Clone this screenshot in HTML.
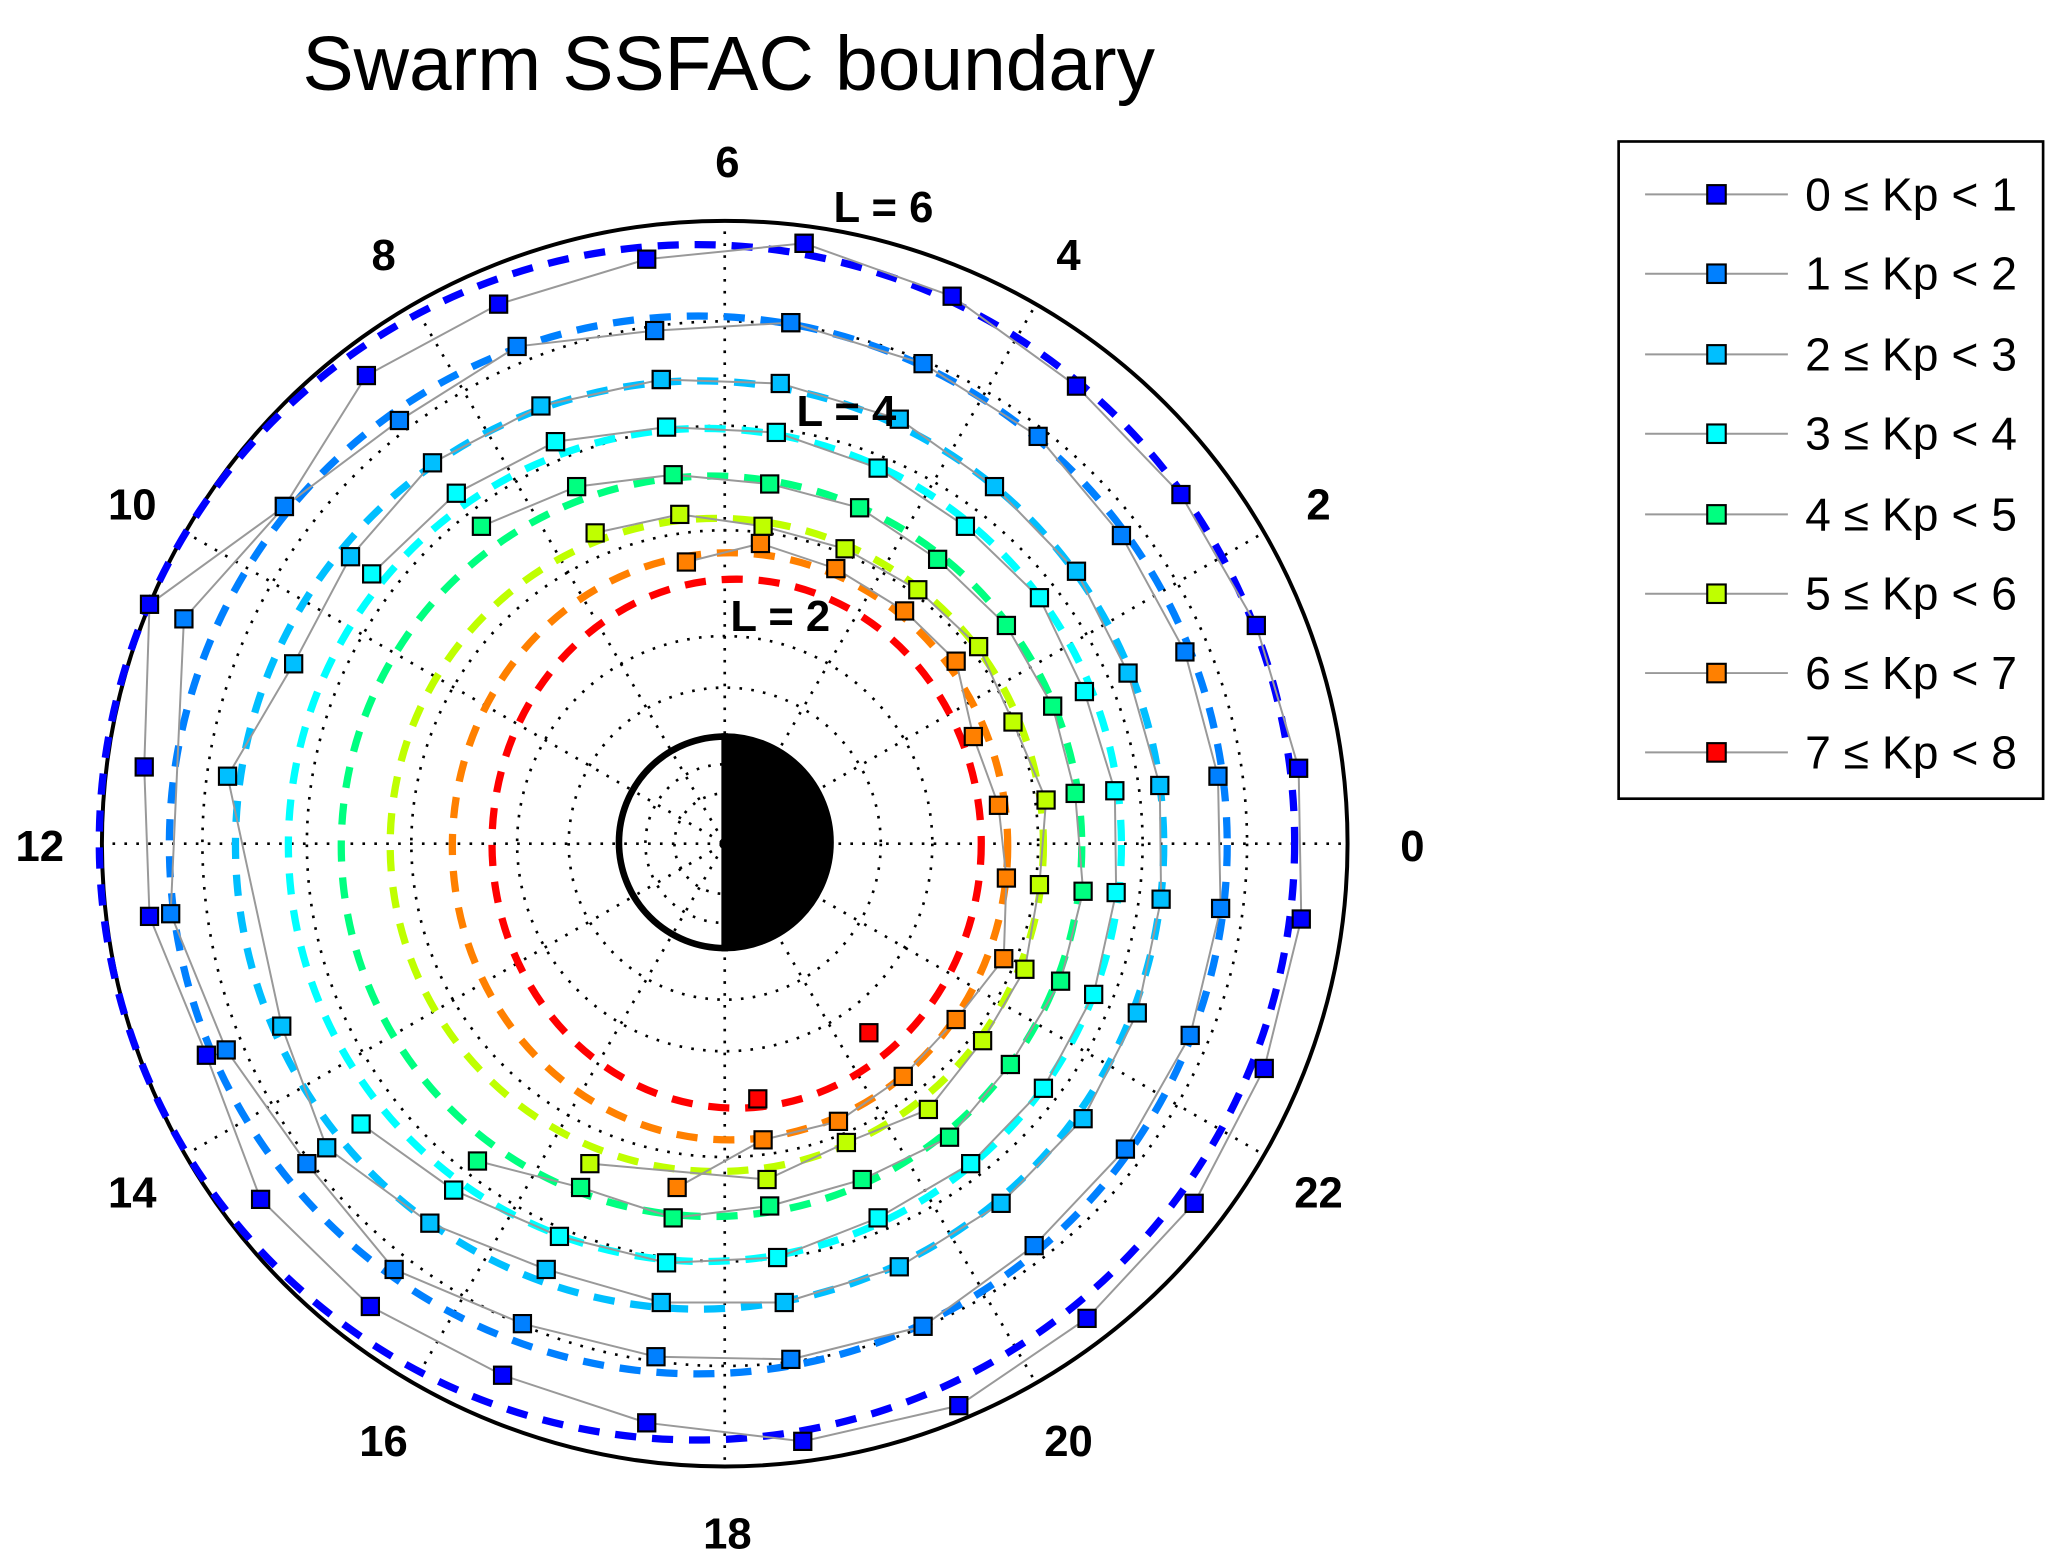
<!DOCTYPE html>
<html><head><meta charset="utf-8"><style>html,body{margin:0;padding:0;background:#fff}svg{display:block}</style></head>
<body>
<svg width="2067" height="1563" viewBox="0 0 1563 1182" xmlns="http://www.w3.org/2000/svg" font-family="Liberation Sans, Arial, sans-serif">
<defs>
<marker id="m0" markerUnits="userSpaceOnUse" markerWidth="16" markerHeight="16" refX="8" refY="8"><rect x="1.5" y="1.5" width="13" height="13" fill="#0000ff" stroke="#000" stroke-width="1.6"/></marker>
<marker id="m1" markerUnits="userSpaceOnUse" markerWidth="16" markerHeight="16" refX="8" refY="8"><rect x="1.5" y="1.5" width="13" height="13" fill="#0080ff" stroke="#000" stroke-width="1.6"/></marker>
<marker id="m2" markerUnits="userSpaceOnUse" markerWidth="16" markerHeight="16" refX="8" refY="8"><rect x="1.5" y="1.5" width="13" height="13" fill="#00bfff" stroke="#000" stroke-width="1.6"/></marker>
<marker id="m3" markerUnits="userSpaceOnUse" markerWidth="16" markerHeight="16" refX="8" refY="8"><rect x="1.5" y="1.5" width="13" height="13" fill="#00ffff" stroke="#000" stroke-width="1.6"/></marker>
<marker id="m4" markerUnits="userSpaceOnUse" markerWidth="16" markerHeight="16" refX="8" refY="8"><rect x="1.5" y="1.5" width="13" height="13" fill="#00ff80" stroke="#000" stroke-width="1.6"/></marker>
<marker id="m5" markerUnits="userSpaceOnUse" markerWidth="16" markerHeight="16" refX="8" refY="8"><rect x="1.5" y="1.5" width="13" height="13" fill="#bfff00" stroke="#000" stroke-width="1.6"/></marker>
<marker id="m6" markerUnits="userSpaceOnUse" markerWidth="16" markerHeight="16" refX="8" refY="8"><rect x="1.5" y="1.5" width="13" height="13" fill="#ff8000" stroke="#000" stroke-width="1.6"/></marker>
<marker id="m7" markerUnits="userSpaceOnUse" markerWidth="16" markerHeight="16" refX="8" refY="8"><rect x="1.5" y="1.5" width="13" height="13" fill="#ff0000" stroke="#000" stroke-width="1.6"/></marker>
</defs>

<text x="551" y="68" font-size="58" text-anchor="middle">Swarm SSFAC boundary</text>

<path d="M548,557 A80,80 0 0 0 548,717 Z" fill="#fff" stroke="#000" stroke-width="5"/>
<path d="M548,557 A80,80 0 0 1 548,717 Z" fill="#000" stroke="#000" stroke-width="5"/>

<g fill="none" stroke="#000" stroke-width="2" stroke-dasharray="2 7">
<circle cx="548" cy="638" r="38"/>
<circle cx="548" cy="638" r="60"/>
<circle cx="548" cy="638" r="118"/>
<circle cx="548" cy="638" r="157"/>
<circle cx="548" cy="638" r="237"/>
<circle cx="548" cy="638" r="316"/>
<circle cx="548" cy="638" r="395"/>
<line x1="76" y1="638" x2="1020" y2="638"/>
<line x1="548" y1="166" x2="548" y2="1110"/>
<line x1="139" y1="402" x2="957" y2="874"/>
<line x1="139" y1="874" x2="957" y2="402"/>
<line x1="312" y1="229" x2="784" y2="1047"/>
<line x1="312" y1="1047" x2="784" y2="229"/>
</g>
<circle cx="548" cy="638" r="471" fill="none" stroke="#000" stroke-width="3"/>

<g fill="none" stroke-width="5.5" stroke-dasharray="16 12">
<circle cx="527" cy="637" r="452" stroke="#0000ff"/>
<circle cx="528" cy="639" r="400" stroke="#0080ff"/>
<circle cx="529" cy="639" r="351" stroke="#00bfff"/>
<circle cx="533" cy="639" r="315" stroke="#00ffff"/>
<circle cx="538" cy="640" r="280" stroke="#00ff80"/>
<circle cx="542" cy="639" r="247" stroke="#bfff00"/>
<ellipse cx="552" cy="640" rx="210" ry="222" stroke="#ff8000"/>
<ellipse cx="557" cy="638" rx="185" ry="200" stroke="#ff0000"/>
</g>

<g fill="none" stroke="#999" stroke-width="1.5">
<polyline marker-start="url(#m0)" marker-mid="url(#m0)" marker-end="url(#m0)" points="608,184 720,224 814,292 893,374 950,473 982,581 984,695 956,808 903,910 822,997 725,1063 607,1090 489,1076 380,1040 280,988 197,907 156,798 113,693 109,580 113,457 215,383 277,284 377,230 489,196 608,184"/>
<polyline marker-start="url(#m1)" marker-mid="url(#m1)" marker-end="url(#m1)" points="598,244 698,275 785,330 848,405 896,493 921,587 923,687 900,783 851,869 782,942 698,1003 598,1028 496,1026 395,1001 298,960 232,880 171,794 129,691 139,468 215,383 302,318 391,262 495,250 598,244"/>
<polyline marker-start="url(#m2)" marker-mid="url(#m2)" marker-end="url(#m2)" points="500,287 590,290 680,317 752,368 814,432 853,509 877,594 878,680 860,766 819,846 757,910 680,958 593,985 500,985 413,960 325,925 247,868 213,776 172,587 222,502 265,421 327,350 409,307 500,287"/>
<polyline marker-start="url(#m3)" marker-mid="url(#m3)" marker-end="url(#m3)" points="420,334 504,323 587,327 664,354 730,398 786,452 820,523 843,598 844,675 827,752 789,823 734,880 664,921 588,951 504,955 423,935 343,900 273,850"/>
<polyline marker-start="url(#m3)" marker-mid="url(#m3)" marker-end="url(#m3)" points="281,434 345,373 420,334"/>
<polyline marker-start="url(#m4)" marker-mid="url(#m4)" marker-end="url(#m4)" points="364,398 436,368 509,359 582,366 650,384 709,423 761,473 796,534 813,600 819,674 802,742 764,805 718,860 652,892 582,912 509,921 439,898 361,878"/>
<polyline marker-start="url(#m5)" marker-mid="url(#m5)" marker-end="url(#m5)" points="450,403 514,389 577,398 639,415 694,446 740,489 766,546 791,605 786,669 775,733 743,787 702,839 640,864 580,892 446,880"/>
<polyline marker-start="url(#m6)" marker-mid="url(#m6)" marker-end="url(#m6)" points="519,425 575,411 632,430 684,462 723,500 736,557 755,609 761,664 759,725 723,771 683,814 634,848 577,862 512,898"/>
<polyline marker-start="url(#m7)" marker-end="url(#m7)" points="573,831 657,781" stroke="none"/>
</g>

<g font-weight="bold" font-size="33" text-anchor="middle">
<text x="550" y="134">6</text>
<text x="290" y="204">8</text>
<text x="808" y="204">4</text>
<text x="100" y="393">10</text>
<text x="997" y="393">2</text>
<text x="30" y="651">12</text>
<text x="1068" y="651">0</text>
<text x="100" y="913">14</text>
<text x="997" y="913">22</text>
<text x="290" y="1101">16</text>
<text x="808" y="1101">20</text>
<text x="550" y="1171">18</text>
<text x="668" y="168">L = 6</text>
<text x="640" y="322">L = 4</text>
<text x="590" y="477">L = 2</text>
</g>

<rect x="1224" y="107" width="321" height="497" fill="#fff" stroke="#000" stroke-width="2"/>
<g font-size="35">
<line x1="1244" y1="147" x2="1352" y2="147" stroke="#999" stroke-width="1.5"/><rect x="1291" y="140" width="14" height="14" fill="#0000ff" stroke="#000" stroke-width="1.6"/><text x="1365" y="159">0 ≤ Kp &lt; 1</text>
<line x1="1244" y1="207" x2="1352" y2="207" stroke="#999" stroke-width="1.5"/><rect x="1291" y="200" width="14" height="14" fill="#0080ff" stroke="#000" stroke-width="1.6"/><text x="1365" y="219">1 ≤ Kp &lt; 2</text>
<line x1="1244" y1="268" x2="1352" y2="268" stroke="#999" stroke-width="1.5"/><rect x="1291" y="261" width="14" height="14" fill="#00bfff" stroke="#000" stroke-width="1.6"/><text x="1365" y="280">2 ≤ Kp &lt; 3</text>
<line x1="1244" y1="328" x2="1352" y2="328" stroke="#999" stroke-width="1.5"/><rect x="1291" y="321" width="14" height="14" fill="#00ffff" stroke="#000" stroke-width="1.6"/><text x="1365" y="340">3 ≤ Kp &lt; 4</text>
<line x1="1244" y1="389" x2="1352" y2="389" stroke="#999" stroke-width="1.5"/><rect x="1291" y="382" width="14" height="14" fill="#00ff80" stroke="#000" stroke-width="1.6"/><text x="1365" y="401">4 ≤ Kp &lt; 5</text>
<line x1="1244" y1="449" x2="1352" y2="449" stroke="#999" stroke-width="1.5"/><rect x="1291" y="442" width="14" height="14" fill="#bfff00" stroke="#000" stroke-width="1.6"/><text x="1365" y="461">5 ≤ Kp &lt; 6</text>
<line x1="1244" y1="509" x2="1352" y2="509" stroke="#999" stroke-width="1.5"/><rect x="1291" y="502" width="14" height="14" fill="#ff8000" stroke="#000" stroke-width="1.6"/><text x="1365" y="521">6 ≤ Kp &lt; 7</text>
<line x1="1244" y1="569" x2="1352" y2="569" stroke="#999" stroke-width="1.5"/><rect x="1291" y="562" width="14" height="14" fill="#ff0000" stroke="#000" stroke-width="1.6"/><text x="1365" y="581">7 ≤ Kp &lt; 8</text>
</g>
</svg>
</body></html>
